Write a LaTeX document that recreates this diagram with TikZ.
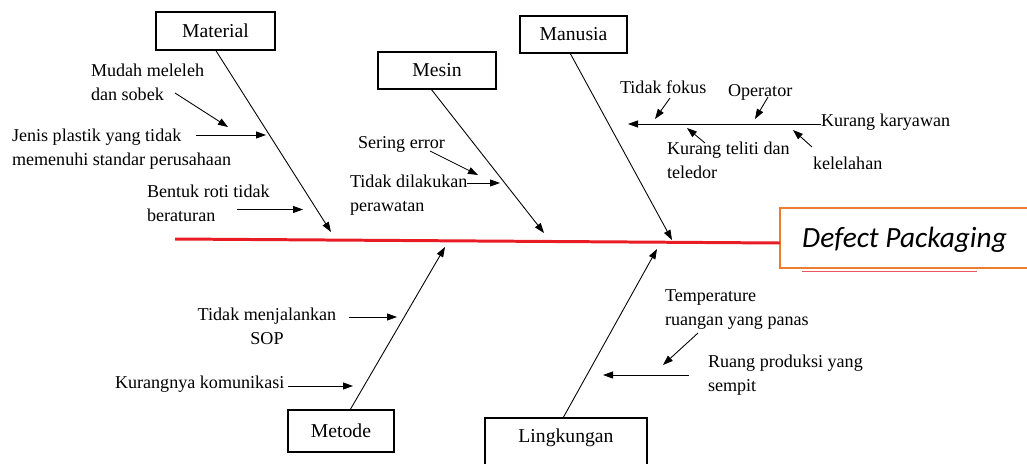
\documentclass[tikz,border=0pt]{standalone}
\usepackage{fontspec}
\setmainfont{Liberation Serif}
\newfontfamily\calibri{Carlito}
\usetikzlibrary{arrows.meta,calc}

\definecolor{spinered}{RGB}{232,28,36}
\definecolor{boxorange}{RGB}{237,125,49}

\begin{document}
\begin{tikzpicture}[x=0.02cm,y=-0.02cm,
  catbox/.style={draw, line width=0.7pt, outer sep=0pt, inner sep=0pt,
    font=\fontsize{11.2pt}{13pt}\selectfont},
  % base anchor of a two-line cause sits on its last line
  cause/.style={inner sep=0pt, outer sep=0pt, anchor=base west, align=left,
    font=\fontsize{10.3pt}{13.4pt}\selectfont},
  sub/.style={line width=0.5pt, -{Triangle[length=0.2cm,width=0.14cm]}},
  bone/.style={sub},
  spine/.style={draw=spinered, line width=1.7pt},
]
\useasboundingbox (0,0) rectangle (1027,463);

% effect box
\node[draw=boxorange, line width=1.5pt, minimum width=5.2cm, minimum height=1.2cm,
  outer sep=0pt] (defbox) at (910,238) {};
\node[anchor=base, inner sep=0pt,
  font=\calibri\itshape\fontsize{16.7pt}{20pt}\selectfont] (def) at (904.5,247) {Defect Packaging};
\draw[spinered!75, line width=0.8pt] (802,271.5) -- (977,271.5);

% spine
\coordinate (spineL) at (175,239);
\coordinate (spineR) at (780,243);
\draw[spine] (spineL) -- (spineR);

% category boxes
\node[catbox, minimum width=2.38cm, minimum height=0.76cm] (mat) at (215.5,31) {Material};
\node[catbox, minimum width=2.36cm, minimum height=0.74cm] (mes) at (437,70.5) {Mesin};
\node[catbox, minimum width=2.14cm, minimum height=0.74cm] (man) at (573.5,34.5) {Manusia};
\node[catbox, minimum width=2.12cm, minimum height=0.84cm] (met) at (341,431) {Metode};
\node[catbox, minimum width=3.24cm, minimum height=0.8cm, draw=none] (lng) at (566,438) {Lingkungan};
\draw[line width=0.7pt] ([yshift=-0.3cm]lng.south west) |- (lng.north east) -- ([yshift=-0.3cm]lng.south east);

% bone tips on the spine
\coordinate (tMat) at (331,232);
\coordinate (tMes) at (544,233);
\coordinate (tMan) at (672,240);
\coordinate (tMet) at (445,247);
\coordinate (tLng) at (657,249);

\draw[bone] (mat.south) -- (tMat);
\draw[bone] ([xshift=-0.12cm]mes.south) -- (tMes);
\draw[bone] ([xshift=-0.07cm]man.south) -- (tMan);
\draw[bone] ([xshift=0.18cm]met.north) -- (tMet);
\draw[bone] ([xshift=-0.06cm]lng.north) -- (tLng);

% Material causes
\node[cause] (m1) at (91,100.5) {Mudah meleleh\\dan sobek};
\node[cause] (m2) at (12,165.5) {Jenis plastik yang tidak\\memenuhi standar perusahaan};
\node[cause] (m3) at (147,221.5) {Bentuk roti tidak\\beraturan};
\coordinate (m1a) at (175,93);   \coordinate (m1b) at (228,127);
\coordinate (m2a) at (196,135);  \coordinate (m2b) at (266,135);
\coordinate (m3a) at (237,209.5);\coordinate (m3b) at (303,209.5);
\draw[sub] (m1a) -- (m1b);
\draw[sub] (m2a) -- (m2b);
\draw[sub] (m3a) -- (m3b);

% Mesin causes
\node[cause] (s1) at (358,148) {Sering error};
\node[cause] (s2) at (350,211.5) {Tidak dilakukan\\perawatan};
\coordinate (s1a) at (430,151);  \coordinate (s1b) at (478,175);
\coordinate (s2a) at (467,183);  \coordinate (s2b) at (500,183);
\draw[sub] (s1a) -- (s1b);
\draw[sub] (s2a) -- (s2b);

% Manusia causes
\node[cause] (h0) at (821,126) {Kurang karyawan};
\node[cause] (h1) at (620,93) {Tidak fokus};
\node[cause] (h2) at (728,96) {Operator};
\node[cause] (h3) at (667,178.5) {Kurang teliti dan\\teledor};
\node[cause] (h4) at (813,169) {kelelahan};
\coordinate (h0a) at (821,124);  \coordinate (h0b) at (628,124);
\coordinate (h1a) at (670,98);   \coordinate (h1b) at (655,119);
\coordinate (h2a) at (768,97);   \coordinate (h2b) at (755,119);
\coordinate (h3a) at (705,143);  \coordinate (h3b) at (687,128);
\coordinate (h4a) at (812,147);  \coordinate (h4b) at (793,130);
\draw[sub] (h0a) -- (h0b);
\draw[sub] (h1a) -- (h1b);
\draw[sub] (h2a) -- (h2b);
\draw[sub] (h3a) -- (h3b);
\draw[sub] (h4a) -- (h4b);

% Metode causes
\node[cause, anchor=base, align=center] (k1) at (267,344.5) {Tidak menjalankan\\SOP};
\node[cause] (k2) at (115,388) {Kurangnya komunikasi};
\coordinate (k1a) at (349,317);  \coordinate (k1b) at (397,317);
\coordinate (k2a) at (288,386);  \coordinate (k2b) at (353,386);
\draw[sub] (k1a) -- (k1b);
\draw[sub] (k2a) -- (k2b);

% Lingkungan causes
\node[cause] (l1) at (665,325.5) {Temperature\\ruangan yang panas};
\node[cause] (l2) at (708,391.5) {Ruang produksi yang\\sempit};
\coordinate (l1a) at (698,333);  \coordinate (l1b) at (663,365);
\coordinate (l2a) at (689,375);  \coordinate (l2b) at (603,375);
\draw[sub] (l1a) -- (l1b);
\draw[sub] (l2a) -- (l2b);
\end{tikzpicture}
\end{document}
